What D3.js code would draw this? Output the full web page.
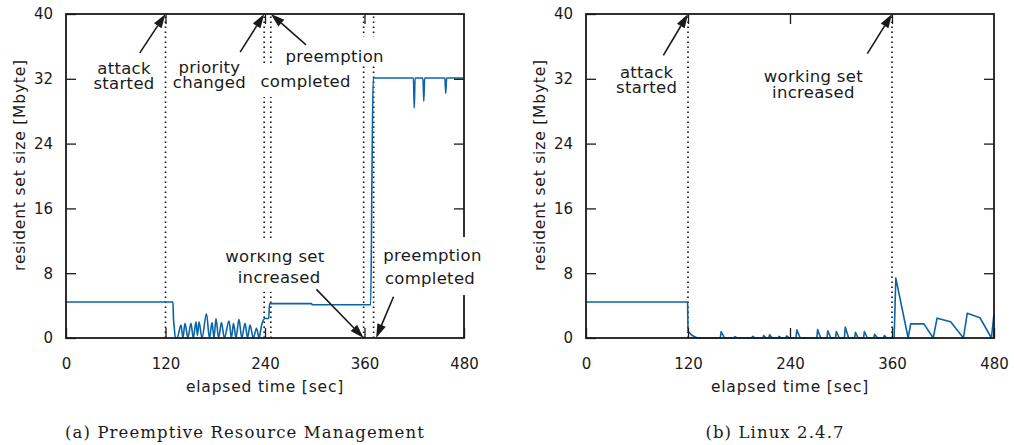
<!DOCTYPE html>
<html>
<head>
<meta charset="utf-8">
<script src="https://cdn.jsdelivr.net/npm/d3@7"></script>
<style>
  body { margin: 0; background: #fff; }
  svg { display: block; }
</style>
</head>
<body>
<svg id="chart" width="1014" height="445"></svg>
<script>
// ---- data ----
const xTicks = [0, 120, 240, 360, 480];
const yTicks = [0, 8, 16, 24, 32, 40];

// (a) preemptive resource management: [sec, Mbyte]
const prmSeries = [
  [0, 4.45], [129, 4.45], [129.5, 2.7], [130.5, 1.4], [132, 0],
  [134, 0], [138.7, 1.6], [141, 0], [143.5, 1.8], [147, 0], [150.7, 1.8], [153.5, 0],
  [156.8, 2.0], [158.5, 0.3], [160.4, 2.0], [164, 0], [169.4, 3.0], [173, 0],
  [176.1, 1.9], [178.5, 0], [180.9, 2.4], [184, 0], [187.5, 1.9], [191, 0],
  [196.6, 2.1], [199.5, 0], [202, 1.8], [205, 0], [208.6, 2.3], [212, 0],
  [215.9, 1.8], [219, 0], [221.9, 1.6], [226, 0], [229.7, 1.2], [233, 0],
  [234.5, 0.8], [236, 1.6], [240, 2.4], [244.5, 2.4], [245.5, 4.25],
  [296, 4.25], [297, 4.1], [367.5, 4.1], [369, 20], [370.5, 32.1],
  [419, 32.1], [420, 28.4], [421, 32.1], [430.5, 32.1], [431.5, 29.2], [432.5, 32.1],
  [457, 32.1], [458, 30.2], [459, 32.1], [480, 32.1]
];

// (b) linux 2.4.7
const linuxSeries = [
  [0, 4.45], [119.5, 4.45], [120, 0.9], [121, 0.7], [125, 0.3], [131, 0],
  [158, 0], [159, 0.8], [163, 0], [174, 0], [175, 0.15], [178, 0],
  [195, 0], [196, 0.2], [199, 0], [208, 0], [209, 0.3], [212, 0],
  [215, 0], [216, 0.4], [219, 0], [226, 0], [227, 0.2], [230, 0],
  [235, 0], [236, 0.25], [239, 0], [247, 0], [248, 1.0], [252, 0],
  [271.5, 0], [272.5, 1.05], [276, 0], [283.5, 0], [284.5, 0.9], [288, 0],
  [293.5, 0], [294.5, 0.8], [298, 0], [304, 0], [305, 1.35], [309, 0],
  [316, 0], [317, 0.7], [320, 0], [326.5, 0], [327.5, 0.8], [331, 0],
  [338.5, 0], [339.5, 0.45], [343, 0], [350, 0], [351, 0.3], [354, 0],
  [362.5, 0], [364.5, 7.4], [379, 0], [382, 1.75], [397.5, 1.75], [408.5, 0],
  [413, 2.45], [429, 2.0], [444, 0], [448.5, 3.05], [463.5, 2.5], [477, 0], [480, 3.0]
];

const prmMarkers = [120, 239, 247, 359, 371];
const linuxMarkers = [120, 360];

// label lines: text, sec, Mbyte (baseline)
const prmLabels = [
  ["attack", 70, 32.65], ["started", 70, 30.8],
  ["priority", 173, 32.75], ["changed", 173, 30.85],
  ["preemption", 324, 34.1], ["completed", 289, 31.0],
  ["working set", 252, 9.42], ["increased", 257, 6.75],
  ["preemption", 442, 9.54], ["completed", 439, 6.67]
];
const linuxLabels = [
  ["attack", 71.4, 32.1], ["started", 71.4, 30.25],
  ["working set", 267.5, 31.6], ["increased", 267.5, 29.6]
];

// arrows: [fromSec, fromMb, toSec, toMb]
const prmArrows = [
  [89, 35.2, 120, 40], [210, 35.3, 239, 40], [289.5, 36.2, 247, 40],
  [302, 6.0, 359, 0], [395, 5.1, 374, 0]
];
const linuxArrows = [[91, 34.9, 120, 40], [331, 35.1, 360, 40]];

// white label boxes that break the dotted lines / frame: [sec0, sec1, mb0, mb1]
const prmMasks = [[264, 384, 33.7, 37.2], [231, 345, 29.75, 33.95], [186, 318, 5.7, 12.35]];
const prmFrameMasks = [[382, 505, 5.3, 12.47]];
const prmClips = [[200, 318, 10.55, 12.35]];  // covers top of "working set"

const SANS = "'DejaVu Sans','Noto Sans',sans-serif";
const SERIF = "'DejaVu Serif','Liberation Serif',serif";
const LINE = "#0b64a5";
const INK = "#1a1a1a";

const svg = d3.select("#chart");

function drawPanel({left, right, series, markers, labels, arrows, curve,
                    masks = [], frameMasks = [], clips = [], caption, captionX}) {
  const top = 14, bottom = 338;
  const x = d3.scaleLinear().domain([0, 480]).range([left, right]);
  const y = d3.scaleLinear().domain([0, 40]).range([bottom, top]);
  const g = svg.append("g");

  const whiteBoxes = (data) => g.selectAll(null).data(data).enter().append("rect")
    .attr("x", d => x(d[0])).attr("width", d => x(d[1]) - x(d[0]))
    .attr("y", d => y(d[3])).attr("height", d => y(d[2]) - y(d[3]))
    .attr("fill", "#fff");

  // dotted event markers
  g.selectAll(".marker").data(markers).enter().append("line")
    .attr("x1", d => x(d)).attr("x2", d => x(d))
    .attr("y1", y(0)).attr("y2", y(40))
    .attr("stroke", INK).attr("stroke-width", 1.7)
    .attr("stroke-dasharray", "1.6,3.4");

  whiteBoxes(masks);

  // data line
  const line = d3.line().x(d => x(d[0])).y(d => y(d[1])).curve(curve);
  g.append("path").datum(series)
    .attr("d", line)
    .attr("fill", "none")
    .attr("stroke", LINE)
    .attr("stroke-width", 1.6)
    .attr("stroke-linejoin", "round");

  // axes, ticks pointing inward on all four sides
  const yl = g.append("g").attr("transform", `translate(${left},0)`)
    .call(d3.axisLeft(y).tickValues(yTicks).tickSizeInner(-10).tickSizeOuter(0).tickPadding(13));
  const yr = g.append("g").attr("transform", `translate(${right},0)`)
    .call(d3.axisRight(y).tickValues(yTicks.slice(1, -1)).tickSizeInner(-10).tickSizeOuter(0).tickFormat(""));
  const xb = g.append("g").attr("transform", `translate(0,${bottom})`)
    .call(d3.axisBottom(x).tickValues(xTicks).tickSizeInner(-10).tickSizeOuter(0).tickPadding(20));
  const xt = g.append("g").attr("transform", `translate(0,${top})`)
    .call(d3.axisTop(x).tickValues(xTicks.slice(1, -1)).tickSizeInner(-10).tickSizeOuter(0).tickFormat(""));
  [yl, yr, xb, xt].forEach(ax => {
    ax.select(".domain").remove();
    ax.selectAll("line").attr("stroke", INK).attr("stroke-width", 1.3);
    ax.selectAll("text").attr("font-family", SANS).attr("font-size", 15).attr("fill", INK);
  });

  // frame
  g.append("rect")
    .attr("x", left).attr("y", top)
    .attr("width", right - left).attr("height", bottom - top)
    .attr("fill", "none").attr("stroke", INK).attr("stroke-width", 1.8);

  whiteBoxes(frameMasks);

  // labels
  g.selectAll(".lbl").data(labels).enter().append("text")
    .attr("x", d => x(d[1])).attr("y", d => y(d[2]))
    .attr("text-anchor", "middle")
    .attr("font-family", SANS).attr("font-size", 16.5)
    .attr("letter-spacing", 0.3)
    .attr("fill", INK)
    .text(d => d[0]);

  whiteBoxes(clips);

  // arrows
  arrows.forEach(a => {
    const x0 = x(a[0]), y0 = y(a[1]), x1 = x(a[2]), y1 = y(a[3]);
    const dx = x1 - x0, dy = y1 - y0, len = Math.hypot(dx, dy);
    const ux = dx / len, uy = dy / len;
    const head = 14, half = 4.5;
    const bx = x1 - ux * head, by = y1 - uy * head;
    g.append("line")
      .attr("x1", x0).attr("y1", y0).attr("x2", bx).attr("y2", by)
      .attr("stroke", INK).attr("stroke-width", 1.6);
    g.append("path")
      .attr("d", `M${x1},${y1}L${bx - uy * half},${by + ux * half}L${bx + uy * half},${by - ux * half}Z`)
      .attr("fill", INK);
  });

  // axis titles
  g.append("text")
    .attr("x", (left + right) / 2).attr("y", 392)
    .attr("text-anchor", "middle")
    .attr("font-family", SANS).attr("font-size", 15.5).attr("letter-spacing", 0.8)
    .attr("fill", INK)
    .text("elapsed time [sec]");
  g.append("text")
    .attr("transform", `translate(${left - 41},165) rotate(-90)`)
    .attr("text-anchor", "middle")
    .attr("font-family", SANS).attr("font-size", 15.5).attr("letter-spacing", 0.8)
    .attr("fill", INK)
    .text("resident set size [Mbyte]");

  // caption
  g.append("text")
    .attr("x", captionX).attr("y", 438)
    .attr("text-anchor", "middle")
    .attr("font-family", SERIF)
    .attr("font-size", 16.5).attr("letter-spacing", 1.1).attr("fill", INK)
    .text(caption);
}

drawPanel({
  left: 66, right: 464, series: prmSeries, markers: prmMarkers,
  labels: prmLabels, arrows: prmArrows, masks: prmMasks,
  frameMasks: prmFrameMasks, clips: prmClips,
  curve: d3.curveMonotoneX,
  caption: "(a) Preemptive Resource Management", captionX: 245
});
drawPanel({
  left: 586, right: 994, series: linuxSeries, markers: linuxMarkers,
  labels: linuxLabels, arrows: linuxArrows, curve: d3.curveLinear,
  caption: "(b) Linux 2.4.7", captionX: 775
});
</script>
</body>
</html>
